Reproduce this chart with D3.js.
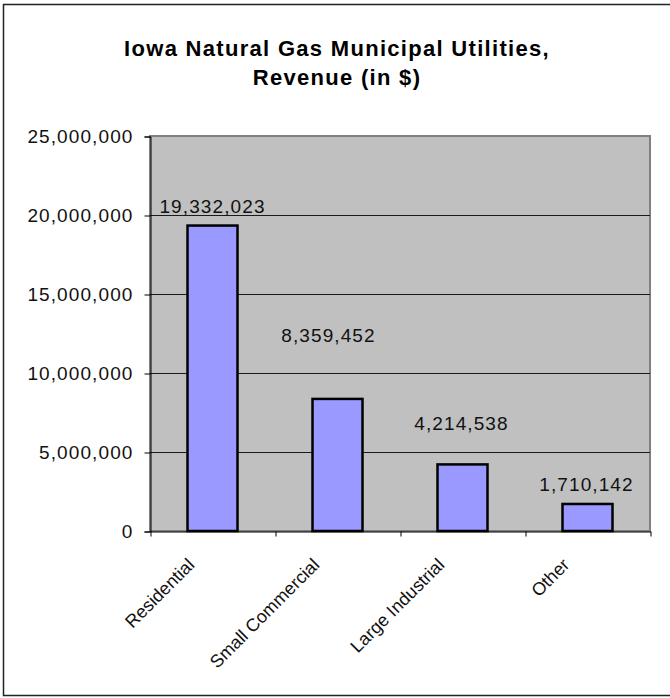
<!DOCTYPE html>
<html>
<head>
<meta charset="utf-8">
<script src="https://cdnjs.cloudflare.com/ajax/libs/d3/7.8.5/d3.min.js"></script>
<style>
  body { margin: 0; background: #fff; }
  svg { font-family: "Liberation Sans", Arial, sans-serif; }
</style>
</head>
<body>
<svg id="drawing_region"></svg>
<script>
const categories = ['Residential', 'Small Commercial', 'Large Industrial', 'Other'];
const revenue = [19332023, 8359452, 4214538, 1710142];
const yTicks = [0, 5000000, 10000000, 15000000, 20000000, 25000000];
const titleLines = ['Iowa Natural Gas Municipal Utilities,', 'Revenue (in $)'];

// label placement (px above bar top / px sideways)
const labelLift = [13, 57, 34, 13];
const labelShift = [0, -9, -1, -1];

class BarChart {

    constructor( config ) {
        this.config = {
            parent: config.parent,
            width: config.width || 670,
            height: config.height || 698,
            margin: config.margin || {top:136, right:20, bottom:167, left:150}
        }
        this.init();
    }

    init() {
        let self = this;
        const m = self.config.margin;

        self.svg = d3.select( self.config.parent )
            .attr('width', self.config.width)
            .attr('height', self.config.height);

        self.inner_width = self.config.width - m.left - m.right;
        self.inner_height = self.config.height - m.top - m.bottom;

        self.yscale = d3.scaleLinear()
            .domain([0, d3.max(yTicks)])
            .range([m.top + self.inner_height, m.top]);

        self.xscale = d3.scaleBand()
            .domain(categories)
            .range([m.left, m.left + self.inner_width])
            .paddingInner(0.6)
            .paddingOuter(0.3);

        // category boundaries, for the tick marks between bars
        self.xedge = d3.scaleLinear()
            .domain([0, categories.length])
            .range([m.left, m.left + self.inner_width]);
    }

    render() {
        let self = this;
        const m = self.config.margin;
        const x0 = m.left, x1 = m.left + self.inner_width;
        const y0 = m.top + self.inner_height, y1 = m.top;

        // outer chart frame
        self.svg.append('rect')
            .attr('x', 3.5).attr('y', 4.5)
            .attr('width', self.config.width + 10)
            .attr('height', 691)
            .attr('fill', 'none')
            .attr('stroke', '#222')
            .attr('stroke-width', 1.5);

        self.svg.selectAll('.title')
            .data(titleLines)
            .join('text')
            .attr('class', 'title')
            .attr('x', 337)
            .attr('y', (d, i) => 56 + i * 29)
            .attr('text-anchor', 'middle')
            .style('font-size', '22px')
            .style('font-weight', 'bold')
            .style('letter-spacing', '1.3px')
            .text(d => d);

        // plot area
        self.svg.append('rect')
            .attr('x', x0).attr('y', y1)
            .attr('width', x1 - x0).attr('height', y0 - y1)
            .attr('fill', '#c0c0c0')
            .attr('stroke', '#808080')
            .attr('stroke-width', 2);

        self.svg.selectAll('.grid')
            .data(yTicks.slice(1, -1))
            .join('line')
            .attr('class', 'grid')
            .attr('x1', x0).attr('x2', x1)
            .attr('y1', d => Math.round(self.yscale(d)) + 0.5)
            .attr('y2', d => Math.round(self.yscale(d)) + 0.5)
            .attr('stroke', '#1a1a1a');

        self.svg.selectAll('.bar')
            .data(revenue)
            .join('rect')
            .attr('class', 'bar')
            .attr('x', (d, i) => self.xscale(categories[i]))
            .attr('y', d => self.yscale(d))
            .attr('width', self.xscale.bandwidth())
            .attr('height', d => y0 - self.yscale(d))
            .attr('fill', '#9999ff')
            .attr('stroke', '#000')
            .attr('stroke-width', 2.5);

        const yaxis = d3.axisLeft(self.yscale)
            .tickValues(yTicks)
            .tickSize(6)
            .tickPadding(11)
            .tickFormat(d3.format(','));

        self.svg.append('g')
            .attr('transform', `translate(${x0 + 0.5}, 0.5)`)
            .call(yaxis)
            .call(g => g.select('.domain').attr('stroke', '#000'))
            .call(g => g.selectAll('text')
                .style('font-size', '19px')
                .style('letter-spacing', '1.1px')
                .attr('font-family', null)
                .attr('fill', '#111'));

        const xaxis = d3.axisBottom(self.xedge)
            .tickValues(d3.range(categories.length + 1))
            .tickSize(5)
            .tickSizeOuter(0)
            .tickFormat('');

        self.svg.append('g')
            .attr('transform', `translate(0.5, ${y0 + 0.5})`)
            .call(xaxis)
            .call(g => g.select('.domain').attr('stroke', '#000'));

        // category labels, rotated
        self.svg.selectAll('.cat')
            .data(categories)
            .join('text')
            .attr('class', 'cat')
            .attr('transform', (d, i) =>
                `translate(${self.xedge(i + 0.5) - 17}, ${y0 + 35}) rotate(-45)`)
            .attr('text-anchor', 'end')
            .style('font-size', '18px')
            .attr('fill', '#111')
            .text(d => d);

        // value labels
        self.svg.selectAll('.val')
            .data(revenue)
            .join('text')
            .attr('class', 'val')
            .attr('x', (d, i) => self.xscale(categories[i]) + self.xscale.bandwidth() / 2 + labelShift[i])
            .attr('y', (d, i) => self.yscale(d) - labelLift[i])
            .attr('text-anchor', 'middle')
            .style('font-size', '19px')
            .style('letter-spacing', '1.1px')
            .attr('fill', '#111')
            .text(d => d3.format(',')(d));
    }
}

const chart = new BarChart({ parent: '#drawing_region', width: 670, height: 698 });
chart.render();
</script>
</body>
</html>
